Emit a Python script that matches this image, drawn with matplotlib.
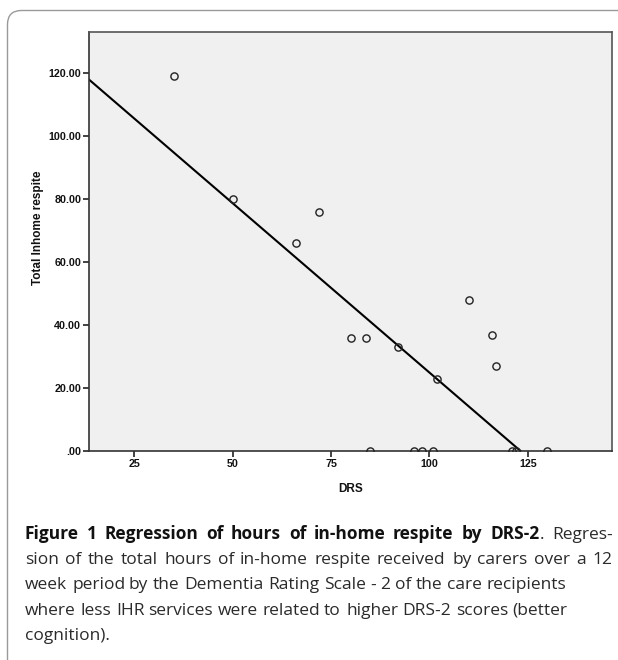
import matplotlib
matplotlib.use("Agg")
import matplotlib.pyplot as plt
import numpy as np
from matplotlib.patches import FancyBboxPatch
from matplotlib.transforms import IdentityTransform
from matplotlib.ticker import FuncFormatter

# ---- data ----
drs = [35, 50, 66, 72, 80, 84, 92, 102, 110, 116, 117,
       85, 96, 98, 101, 121, 122, 130]
respite = [119, 80, 66, 76, 36, 36, 33, 23, 48, 37, 27,
           0, 0, 0, 0, 0, 0, 0]
x_ticks = [25, 50, 75, 100, 125]
y_ticks = [0, 20, 40, 60, 80, 100, 120]
x_label = "DRS"
y_label = "Total Inhome respite"
caption_bold = "Figure 1 Regression of hours of in-home respite by DRS-2"
caption_rest = ". Regres-"
caption_lines = [
    "sion of the total hours of in-home respite received by carers over a 12",
    "week period by the Dementia Rating Scale - 2 of the care recipients",
    "where less IHR services were related to higher DRS-2 scores (better",
    "cognition).",
]

W, H = 618, 660
fig = plt.figure(figsize=(W / 100, H / 100), dpi=100)
fig.patch.set_facecolor("white")

# card border (rounded, open to right / bottom)
card = FancyBboxPatch((7.5, -40), 800, (H - 10.5) + 40,
                      boxstyle="round,pad=0,rounding_size=14",
                      transform=IdentityTransform(), facecolor="none",
                      edgecolor="#9a9a9a", linewidth=1.0)
fig.patches.append(card)

L, R, T, B = 89, 612, 32, 451
ax = fig.add_axes([L / W, 1 - B / H, (R - L) / W, (B - T) / H])
ax.set_facecolor("#f0f0f0")
ax.set_xlim(13.5, 146.4)
ax.set_ylim(0, 133.1)

x = np.array(drs, dtype=float)
y = np.array(respite, dtype=float)
ax.plot(x, y, linestyle="none", marker="o", markersize=5.2,
        markerfacecolor="none", markeredgecolor="#222222",
        markeredgewidth=1.0, zorder=3)

slope, intercept = np.polyfit(x, y, 1)
xs = np.linspace(13.5, 146.4, 200)
ax.plot(xs, slope * xs + intercept, color="black", linewidth=1.5, zorder=2)

for s in ["left", "bottom"]:
    ax.spines[s].set_color("#333333")
    ax.spines[s].set_linewidth(1.2)
for s in ["top", "right"]:
    ax.spines[s].set_color("#555555")
    ax.spines[s].set_linewidth(1.2)

ax.set_xticks(x_ticks)
ax.set_yticks(y_ticks)
ax.yaxis.set_major_formatter(FuncFormatter(lambda v, p: ".00" if v == 0 else f"{v:.2f}"))
ax.tick_params(axis="both", direction="out", length=4, width=1.2, color="#222222",
               labelsize=7.7, pad=1.5)
for lab in ax.get_xticklabels() + ax.get_yticklabels():
    lab.set_fontfamily("Liberation Sans")
    lab.set_fontweight("bold")
    lab.set_color("#111111")

fig.text(38 / W, 1 - 228 / H, y_label, rotation=90, ha="center", va="center",
         fontsize=8.5, fontweight="bold", family="Liberation Sans", color="#111111")
fig.text(350.5 / W, 1 - 489 / H, x_label, ha="center", va="center",
         fontsize=8.5, fontweight="bold", family="Liberation Sans", color="#111111")

# ---- caption, set word by word (first two lines justified) ----
fam = "Open Sans"
cap_left, cap_right = 25, 612
base0, dy = 539, 25.2
renderer = fig.canvas.get_renderer()


def measure(s, fs, weight="normal"):
    t = fig.text(0, 0, s, fontsize=fs, fontweight=weight, family=fam)
    w = t.get_window_extent(renderer).width
    t.remove()
    return w


fs = 11.0
fs = fs * 565 / measure(caption_lines[0], fs)


def natural_positions(words, weight):
    pos = []
    for i, w in enumerate(words):
        if i == 0:
            pos.append(0.0)
        else:
            full = " ".join(words[:i + 1])
            pos.append(measure(full, fs, weight) - measure(w, fs, weight))
    return pos


def draw_words(words, weight, baseline, justify, color, x0=cap_left, right=cap_right):
    pos = natural_positions(words, weight)
    extra = 0.0
    if justify and len(words) > 1:
        total = pos[-1] + measure(words[-1], fs, weight)
        extra = (right - x0 - total) / (len(words) - 1)
    for i, (w, p) in enumerate(zip(words, pos)):
        xx = x0 + p + extra * i
        fig.text(round(xx) / W, 1 - baseline / H, w, ha="left", va="baseline",
                 fontsize=fs, fontweight=weight, family=fam, color=color)


# first line: bold part, then regular ". Regres-" directly attached
bold_words = caption_bold.split(" ")
rest_words = caption_rest.split(" ")
w_bold = measure(caption_bold, fs, "bold")
w_rest = measure(caption_rest, fs)
nat_total = w_bold + w_rest
n_gaps = (len(bold_words) - 1) + (len(rest_words) - 1)
extra1 = (cap_right - cap_left - nat_total) / n_gaps
pos_b = natural_positions(bold_words, "bold")
for i, (w, p) in enumerate(zip(bold_words, pos_b)):
    fig.text(round(cap_left + p + extra1 * i) / W, 1 - base0 / H, w, ha="left",
             va="baseline", fontsize=fs, fontweight="bold", family=fam,
             color="#111111")
x_rest = cap_left + w_bold + extra1 * (len(bold_words) - 1) + 0.5
pos_r = natural_positions(rest_words, "normal")
for i, (w, p) in enumerate(zip(rest_words, pos_r)):
    fig.text(round(x_rest + p + extra1 * i) / W, 1 - base0 / H, w, ha="left",
             va="baseline", fontsize=fs, family=fam, color="#2a2a2a")

for i, line in enumerate(caption_lines, start=1):
    draw_words(line.split(" "), "normal", base0 + i * dy, i == 1, "#2a2a2a")

fig.savefig("out.png", dpi=100)
